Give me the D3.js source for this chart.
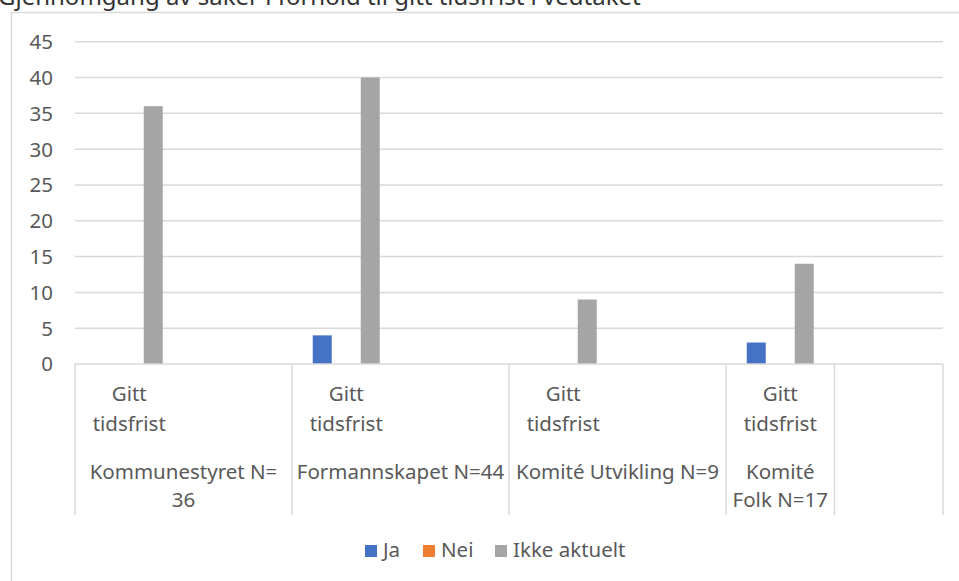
<!DOCTYPE html>
<html>
<head>
<meta charset="utf-8">
<script src="https://cdn.jsdelivr.net/npm/d3@7"></script>
<style>
  html, body { margin: 0; padding: 0; background: #fff; }
  svg { display: block; }
  text { font-family: "Noto Sans", "Open Sans", sans-serif; fill: #595959; }
</style>
</head>
<body>
<svg id="chart" width="959" height="581"></svg>
<script>
// ---- data ----
const titleText = "Gjennomgang av saker i forhold til gitt tidsfrist i vedtaket";
const groups = ["Kommunestyret N= 36", "Formannskapet N=44", "Komité Utvikling N=9", "Komité Folk N=17", ""];
const groupLines = [["Kommunestyret N=", "36"], ["Formannskapet N=44"], ["Komité Utvikling N=9"], ["Komité", "Folk N=17"], []];
// inner category slots: group index and label
const slotGroup = [0, 0, 1, 1, 2, 2, 3, 4];
const slotLabels = ["Gitt tidsfrist", "", "Gitt tidsfrist", "", "Gitt tidsfrist", "", "Gitt tidsfrist", ""];
const series = ["Ja", "Nei", "Ikke aktuelt"];
const colors = ["#4472C4", "#ED7D31", "#A5A5A5"];
const valuesJa = [0, null, 4, null, 0, null, 3, null];
const valuesNei = [0, null, 0, null, 0, null, 0, null];
const valuesIkke = [36, null, 40, null, 9, null, 14, null];
const yTicks = [0, 5, 10, 15, 20, 25, 30, 35, 40, 45];

const seriesValues = [valuesJa, valuesNei, valuesIkke];

const svg = d3.select("#chart");
const W = 959, H = 581;
const plotL = 75, plotR = 943, plotT = 41.7, plotB = 364;
const fs = 20.5;

// outer chart border (left & top visible)
svg.append("path")
  .attr("d", `M11.5,${H} L11.5,12.5 L${W},12.5`)
  .attr("fill", "none").attr("stroke", "#d9d9d9").attr("stroke-width", 1.5);

// title (mostly cut off at top, as in the reference)
svg.append("text")
  .attr("x", -2).attr("y", 5)
  .style("font-size", "24px").style("fill", "#333")
  .text(titleText);

const x0 = d3.scaleBand().domain(d3.range(slotLabels.length)).range([plotL, plotR]).padding(0);
const bw = x0.bandwidth();
const step = 24, barW = 19;
const x1 = d3.scaleBand().domain(series)
  .range([bw / 2 - step * 1.5, bw / 2 + step * 1.5])
  .paddingInner((step - barW) / step).paddingOuter((step - barW) / step / 2);
const y = d3.scaleLinear().domain([0, 45]).range([plotB, plotT]);

// gridlines
svg.append("g").selectAll("line").data(yTicks.filter(d => d > 0)).join("line")
  .attr("x1", plotL).attr("x2", plotR)
  .attr("y1", d => y(d)).attr("y2", d => y(d))
  .attr("stroke", "#d9d9d9").attr("stroke-width", 1.5);

// y tick labels
svg.append("g").selectAll("text").data(yTicks).join("text")
  .attr("x", 53).attr("y", d => y(d)).attr("dy", "0.36em")
  .attr("text-anchor", "end").style("font-size", fs + "px")
  .text(d => d);

// bars
const slots = d3.range(slotLabels.length);
series.forEach((s, si) => {
  svg.append("g").selectAll("rect")
    .data(slots.filter(i => seriesValues[si][i] != null && seriesValues[si][i] > 0))
    .join("rect")
    .attr("x", i => x0(i) + x1(s))
    .attr("width", x1.bandwidth())
    .attr("y", i => y(seriesValues[si][i]))
    .attr("height", i => y(0) - y(seriesValues[si][i]))
    .attr("fill", colors[si]);
});

// category axis
svg.append("line").attr("x1", plotL).attr("x2", plotR).attr("y1", plotB).attr("y2", plotB)
  .attr("stroke", "#d9d9d9").attr("stroke-width", 1.5);

// group boundaries
const groupStart = groups.map((g, gi) => x0(slotGroup.indexOf(gi)));
const groupEnd = groups.map((g, gi) => x0(slotGroup.lastIndexOf(gi)) + bw);
const bounds = Array.from(new Set(groupStart.concat(groupEnd)));
svg.append("g").selectAll("line").data(bounds).join("line")
  .attr("x1", d => d).attr("x2", d => d).attr("y1", plotB).attr("y2", 515)
  .attr("stroke", "#d9d9d9").attr("stroke-width", 1.5);

// inner labels
const inner = svg.append("g");
slots.forEach(i => {
  if (!slotLabels[i]) return;
  const words = slotLabels[i].split(" ");
  const t = inner.append("text").attr("text-anchor", "middle").style("font-size", fs + "px");
  words.forEach((w, wi) => {
    t.append("tspan").attr("x", x0(i) + bw / 2).attr("y", 401 + wi * 29.5).text(w);
  });
});

// group labels
const outer = svg.append("g");
groups.forEach((g, gi) => {
  const cx = (groupStart[gi] + groupEnd[gi]) / 2;
  const t = outer.append("text").attr("text-anchor", "middle").style("font-size", fs + "px");
  groupLines[gi].forEach((ln, li) => {
    t.append("tspan").attr("x", cx).attr("y", 478.5 + li * 28.5).text(ln);
  });
});

// legend
const legX = [365, 423, 495];
const leg = svg.append("g");
series.forEach((s, si) => {
  leg.append("rect").attr("x", legX[si]).attr("y", 545).attr("width", 12).attr("height", 12).attr("fill", colors[si]);
  leg.append("text").attr("x", legX[si] + 18).attr("y", 557).style("font-size", fs + "px").text(s);
});
</script>
</body>
</html>
